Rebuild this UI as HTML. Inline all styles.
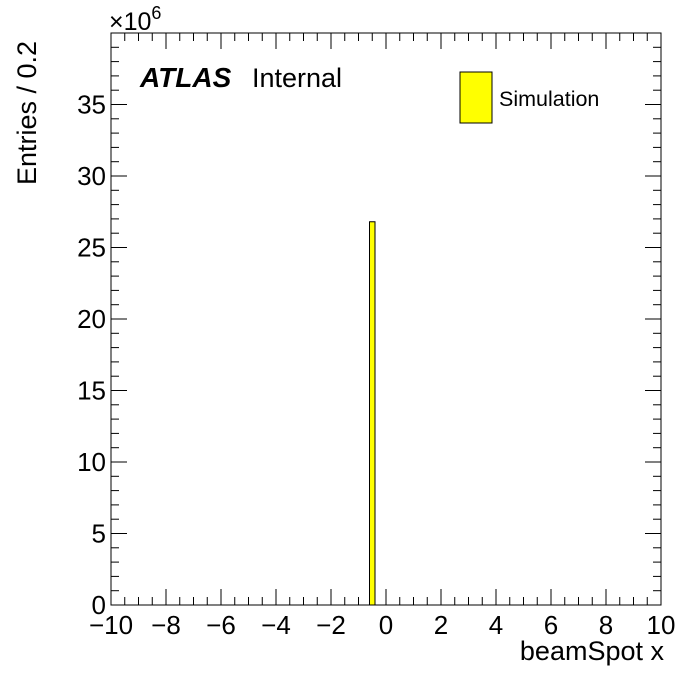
<!DOCTYPE html>
<html><head><meta charset="utf-8"><style>
body{margin:0;background:#fff}
svg text{font-family:"Liberation Sans",Arial,sans-serif;fill:#000}
</style></head><body>
<svg id="chart" width="696" height="672" xmlns="http://www.w3.org/2000/svg">
<rect width="696" height="672" fill="#fff"/>
<g id="ticks"></g>
<g id="bars"></g>
<rect x="111" y="33" width="550" height="572" fill="none" stroke="#000" stroke-width="1"/>
<text x="109" y="30" font-size="25">×10<tspan dy="-11" font-size="18">6</tspan></text>
<text x="140" y="87" font-size="28" font-weight="bold" font-style="italic">ATLAS</text>
<text x="252" y="87" font-size="27">Internal</text>
<rect x="460" y="72" width="32" height="51" fill="#ffff00" stroke="#000"/>
<text x="499" y="106" font-size="21.5">Simulation</text>
<text x="664" y="660" font-size="27" text-anchor="end">beamSpot x</text>
<text transform="translate(36,185) rotate(-90)" font-size="27">Entries / 0.2</text>
</svg>
<script>
const binEdgesLow=[-0.6];
const binWidth=0.2;
const binCounts=[26.8];
const xTicks=[-10,-8,-6,-4,-2,0,2,4,6,8,10];
const yTicks=[0,5,10,15,20,25,30,35];
const X0=111,X1=661,Y0=605,Y1=33,XMIN=-10,XMAX=10,YMIN=0,YMAX=40;
const sx=v=>X0+(v-XMIN)/(XMAX-XMIN)*(X1-X0);
const sy=v=>Y0-(v-YMIN)/(YMAX-YMIN)*(Y0-Y1);
const NS="http://www.w3.org/2000/svg";
const tg=document.getElementById('ticks'),bg=document.getElementById('bars');
function line(x1,y1,x2,y2){const l=document.createElementNS(NS,'line');l.setAttribute('x1',x1);l.setAttribute('y1',y1);l.setAttribute('x2',x2);l.setAttribute('y2',y2);l.setAttribute('stroke','#000');


tg.appendChild(l);}
for(let v=XMIN;v<=XMAX+1e-9;v+=0.5){const x=sx(v),L=(Math.abs(v%2)<1e-9)?16:8;line(x,Y0,x,Y0-L);line(x,Y1,x,Y1+L);}
for(let v=YMIN;v<=YMAX+1e-9;v+=1){const y=sy(v),L=(Math.abs(v%5)<1e-9)?16:8;line(X0,y,X0+L,y);line(X1,y,X1-L,y);}
xTicks.forEach(v=>{const t=document.createElementNS(NS,'text');t.setAttribute('x',sx(v));t.setAttribute('y',634);t.setAttribute('font-size','26');t.setAttribute('text-anchor','middle');t.textContent=v<0?'\u2212'+(-v):String(v);


tg.appendChild(t);});
yTicks.forEach(v=>{const t=document.createElementNS(NS,'text');t.setAttribute('x',106);t.setAttribute('y',sy(v)+9);t.setAttribute('font-size','26');t.setAttribute('text-anchor','end');t.textContent=String(v);


tg.appendChild(t);});
binEdgesLow.forEach((lo,i)=>{const r=document.createElementNS(NS,'rect');const x=sx(lo),w=sx(lo+binWidth)-x,y=sy(binCounts[i]);r.setAttribute('x',x);r.setAttribute('y',y);r.setAttribute('width',w);r.setAttribute('height',Y0-y);r.setAttribute('fill','#ffff00');r.setAttribute('stroke','#000');


bg.appendChild(r);});
</script>
</body></html>
